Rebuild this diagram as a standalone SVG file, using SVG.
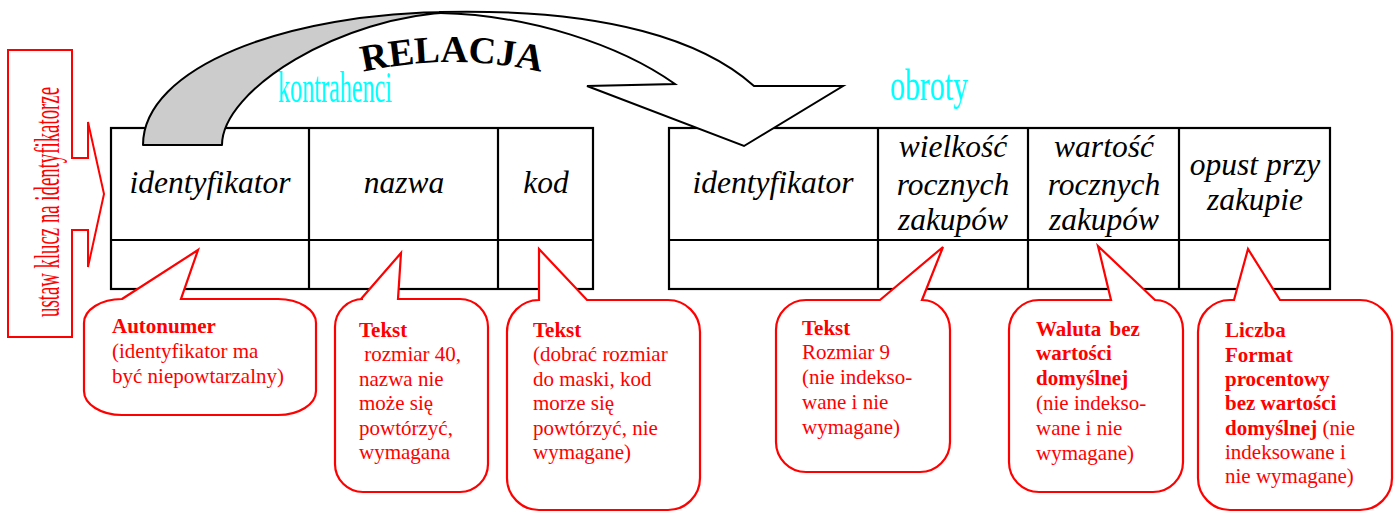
<svg xmlns="http://www.w3.org/2000/svg" width="1397" height="512" viewBox="0 0 1397 512">
<style>
.tbl{fill:none;stroke:#000;stroke-width:2.2}
.th{font-family:"Liberation Serif",serif;font-style:italic;font-size:31.5px;fill:#000;text-anchor:middle}
.co{fill:#fff;stroke:#f00;stroke-width:2.2;stroke-linejoin:miter}
.ct{font-family:"Liberation Serif",serif;font-size:21px;fill:#f00}
.b{font-weight:bold}
.cy{font-family:"Liberation Serif",serif;font-size:44px;fill:#0ff}
.vt{font-family:"Liberation Serif",serif;font-size:35px;fill:#f00;text-anchor:middle}
.rel{font-family:"Liberation Serif",serif;font-weight:bold;font-size:38px;fill:#000;text-anchor:middle}
</style>
<defs>
<path id="arc" d="M252,115.6 A400,400 0 0 1 652,115.6"/>
</defs>
<rect width="1397" height="512" fill="#fff"/>

<g id="key-arrow">
<path d="M8,50 L72,50 L72,158 L88,158 L88,122 L104,194 L88,267 L88,230 L72,230 L72,337 L8,337 Z" fill="#fff" stroke="#f00" stroke-width="2"/>
<text class="vt" transform="translate(59,202) rotate(-90)" textLength="230" lengthAdjust="spacingAndGlyphs">ustaw klucz na identyfikatorze</text>
</g>

<g id="table-kontrahenci">
<rect class="tbl" x="111" y="128" width="482" height="161"/>
<line class="tbl" x1="111" y1="240" x2="593" y2="240"/>
<line class="tbl" x1="309" y1="128" x2="309" y2="289"/>
<line class="tbl" x1="498" y1="128" x2="498" y2="289"/>
<text class="th" x="210" y="193">identyfikator</text>
<text class="th" x="404" y="193">nazwa</text>
<text class="th" x="546" y="193">kod</text>
<text class="cy" x="278" y="102" textLength="114" lengthAdjust="spacingAndGlyphs">kontrahenci</text>
</g>

<g id="table-obroty">
<rect class="tbl" x="669" y="128" width="661" height="161"/>
<line class="tbl" x1="669" y1="240" x2="1330" y2="240"/>
<line class="tbl" x1="878" y1="128" x2="878" y2="289"/>
<line class="tbl" x1="1028" y1="128" x2="1028" y2="289"/>
<line class="tbl" x1="1179" y1="128" x2="1179" y2="289"/>
<text class="th" x="773" y="193">identyfikator</text>
<text class="th" x="953" y="157">wielkość</text>
<text class="th" x="953" y="195">rocznych</text>
<text class="th" x="953" y="230">zakupów</text>
<text class="th" x="1104" y="157">wartość</text>
<text class="th" x="1104" y="195">rocznych</text>
<text class="th" x="1104" y="230">zakupów</text>
<text class="th" x="1255" y="175">opust przy</text>
<text class="th" x="1255" y="210">zakupie</text>
<text class="cy" x="890" y="100" textLength="78" lengthAdjust="spacingAndGlyphs">obroty</text>
</g>

<g id="connectors">
<path d="M143,145 C143,68 285,12 455,12 C340,16 222,90 222,145 Z" fill="#cccccc" stroke="#000" stroke-width="2" stroke-linejoin="round"/>
<path d="M440,12 C610,8 705,42 754,86 L843,86 L744,146 L587,86 L675,84 C620,45 530,15 440,13 Z" fill="#fff" stroke="#000" stroke-width="2" stroke-linejoin="miter"/>
<text class="rel"><textPath href="#arc" startOffset="50%">RELACJA</textPath></text>
</g>

<g id="callout-autonumer">
<path class="co" d="M122,299 L198,250 L181,299 L278,299 A38,24 0 0 1 316,323 L316,391 A38,24 0 0 1 278,415 L122,415 A38,24 0 0 1 84,391 L84,323 A38,24 0 0 1 122,299 Z"/>
<text class="ct" x="112" y="333"><tspan class="b">Autonumer</tspan><tspan x="112" y="358">(identyfikator ma</tspan><tspan x="112" y="383">być niepowtarzalny)</tspan></text>
</g>

<g id="callout-nazwa">
<path class="co" d="M361,299 L401,253 L398,299 L460,299 A28,28 0 0 1 488,327 L488,464 A28,28 0 0 1 460,492 L363,492 A28,28 0 0 1 335,464 L335,327 A28,28 0 0 1 363,299 Z"/>
<text class="ct" x="359" y="337"><tspan class="b">Tekst</tspan><tspan x="359" y="361" xml:space="preserve"> rozmiar 40,</tspan><tspan x="359" y="386">nazwa nie</tspan><tspan x="359" y="410">może się</tspan><tspan x="359" y="435">powtórzyć,</tspan><tspan x="359" y="459">wymagana</tspan></text>
</g>

<g id="callout-kod">
<path class="co" d="M539,300 L539,249 L587,300 L668,300 A32,32 0 0 1 700,332 L700,478 A32,32 0 0 1 668,510 L539,510 A32,32 0 0 1 507,478 L507,332 A32,32 0 0 1 539,300 Z"/>
<text class="ct" x="533" y="337"><tspan class="b">Tekst</tspan><tspan x="533" y="361">(dobrać rozmiar</tspan><tspan x="533" y="386">do maski, kod</tspan><tspan x="533" y="410">morze się</tspan><tspan x="533" y="435">powtórzyć, nie</tspan><tspan x="533" y="459">wymagane)</tspan></text>
</g>

<g id="callout-wielkosc">
<path class="co" d="M806,300 L880,300 L943,247 L922,300 A28,30 0 0 1 950,330 L950,442 A30,30 0 0 1 920,472 L806,472 A30,30 0 0 1 776,442 L776,330 A30,30 0 0 1 806,300 Z"/>
<text class="ct" x="802" y="335"><tspan class="b">Tekst</tspan><tspan x="802" y="359">Rozmiar 9</tspan><tspan x="802" y="384">(nie indekso-</tspan><tspan x="802" y="409">wane i nie</tspan><tspan x="802" y="434">wymagane)</tspan></text>
</g>

<g id="callout-wartosc">
<path class="co" d="M1039,300 L1111,300 L1098,246 L1155,300 A28,30 0 0 1 1183,330 L1183,462 A30,30 0 0 1 1153,492 L1039,492 A30,30 0 0 1 1009,462 L1009,330 A30,30 0 0 1 1039,300 Z"/>
<text class="ct" x="1036" y="336"><tspan class="b" word-spacing="3">Waluta bez</tspan><tspan class="b" x="1036" y="360">wartości</tspan><tspan class="b" x="1036" y="385">domyślnej</tspan><tspan x="1036" y="410">(nie indekso-</tspan><tspan x="1036" y="435">wane i nie</tspan><tspan x="1036" y="460">wymagane)</tspan></text>
</g>

<g id="callout-opust">
<path class="co" d="M1230,300 L1234,300 L1248,249 L1280,300 L1360,300 A32,32 0 0 1 1392,332 L1392,478 A32,32 0 0 1 1360,510 L1230,510 A32,32 0 0 1 1198,478 L1198,332 A32,32 0 0 1 1230,300 Z"/>
<text class="ct" x="1225" y="337"><tspan class="b">Liczba</tspan><tspan class="b" x="1225" y="362">Format</tspan><tspan class="b" x="1225" y="386">procentowy</tspan><tspan class="b" x="1225" y="410">bez wartości</tspan><tspan class="b" x="1225" y="435">domyślnej</tspan><tspan> (nie</tspan><tspan x="1225" y="459">indeksowane i</tspan><tspan x="1225" y="483">nie wymagane)</tspan></text>
</g>
</svg>
